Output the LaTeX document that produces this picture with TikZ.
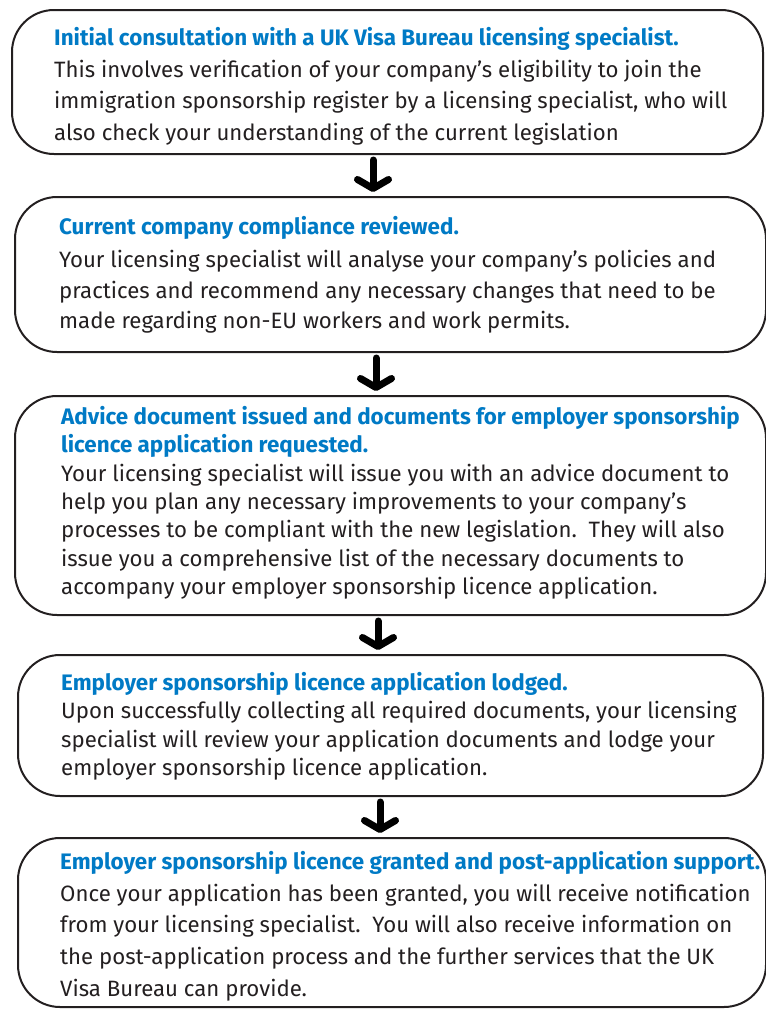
\documentclass[tikz,border=0pt]{standalone}
\usepackage{fontspec}
\setmainfont{Fira Sans}
\usetikzlibrary{positioning,arrows.meta}
\definecolor{visablue}{RGB}{0,122,197}
\definecolor{inkgray}{RGB}{35,31,32}
\newcommand{\steptitle}[1]{{\fontsize{22.4}{28}\selectfont\bfseries\color{visablue}#1}}

\begin{document}
\begin{tikzpicture}[x=1pt,y=-1pt,
    stepbox/.style={draw=inkgray,line width=2pt,rounded corners=42pt,inner sep=0pt,outer sep=0pt,anchor=north west},
    steptext/.style={align=left,inner sep=0pt,text=inkgray,font=\fontsize{22.2}{31.7}\selectfont},
    steparrow/.style={line width=7pt,line cap=round,-{Straight Barb[length=9pt,width=31pt,line width=7pt,round]},shorten <=6pt,shorten >=5pt}]

    \useasboundingbox (0,0) rectangle (766,1010);

    % the five boxes
    \node (s1) [stepbox,minimum width=751pt,minimum height=144pt] at (12,10) {};
    \node (s2) [stepbox,minimum width=751pt,minimum height=155pt] at (15,197) {};
    \node (s3) [stepbox,minimum width=751pt,minimum height=219pt] at (15,396) {};
    \node (s4) [stepbox,minimum width=745pt,minimum height=141pt] at (18,655) {};
    \node (s5) [stepbox,minimum width=748pt,minimum height=169pt] at (18,838) {};

    % texts
    \node (t1) [steptext,below right=17pt and 42pt of s1.north west] {\steptitle{Initial consultation with a UK Visa Bureau licensing specialist.}\\
        This involves verification of your company’s eligibility to join the\\
        immigration sponsorship register by a licensing specialist, who will\\
        also check your understanding of the current legislation};
    \node (t2) [steptext,font=\fontsize{22.2}{30.5}\selectfont,below right=19pt and 44pt of s2.north west] {\steptitle{Current company compliance reviewed.}\\[3pt]
        Your licensing specialist will analyse your company’s policies and\\
        practices and recommend any necessary changes that need to be\\
        made regarding non-EU workers and work permits.};
    \node (t3) [steptext,font=\fontsize{22.2}{28.4}\selectfont,below right=10pt and 46pt of s3.north west] {\steptitle{Advice document issued and documents for employer sponsorship}\\
        \steptitle{licence application requested.}\\
        Your licensing specialist will issue you with an advice document to\\
        help you plan any necessary improvements to your company’s\\
        processes to be compliant with the new legislation.\ \ They will also\\
        issue you a comprehensive list of the necessary documents to\\
        accompany your employer sponsorship licence application.};
    \node (t4) [steptext,font=\fontsize{22.2}{28.5}\selectfont,below right=17pt and 43pt of s4.north west] {\steptitle{Employer sponsorship licence application lodged.}\\
        Upon successfully collecting all required documents, your licensing\\
        specialist will review your application documents and lodge your\\
        employer sponsorship licence application.};
    \node (t5) [steptext,below right=13pt and 42pt of s5.north west] {\steptitle{Employer sponsorship licence granted and post-application support.}\\
        Once your application has been granted, you will receive notification\\
        from your licensing specialist.\ \ You will also receive information on\\
        the post-application process and the further services that the UK\\
        Visa Bureau can provide.};

    % arrows between the steps
    \draw[steparrow] ([xshift=-14.5pt]s1.south) coordinate (a1) -- (a1 |- s2.north);
    \draw[steparrow] ([xshift=-14.5pt]s2.south) coordinate (a2) -- (a2 |- s3.north);
    \draw[steparrow] ([xshift=-12.5pt]s3.south) coordinate (a3) -- (a3 |- s4.north);
    \draw[steparrow] ([xshift=-10.5pt]s4.south) coordinate (a4) -- (a4 |- s5.north);
\end{tikzpicture}
\end{document}
